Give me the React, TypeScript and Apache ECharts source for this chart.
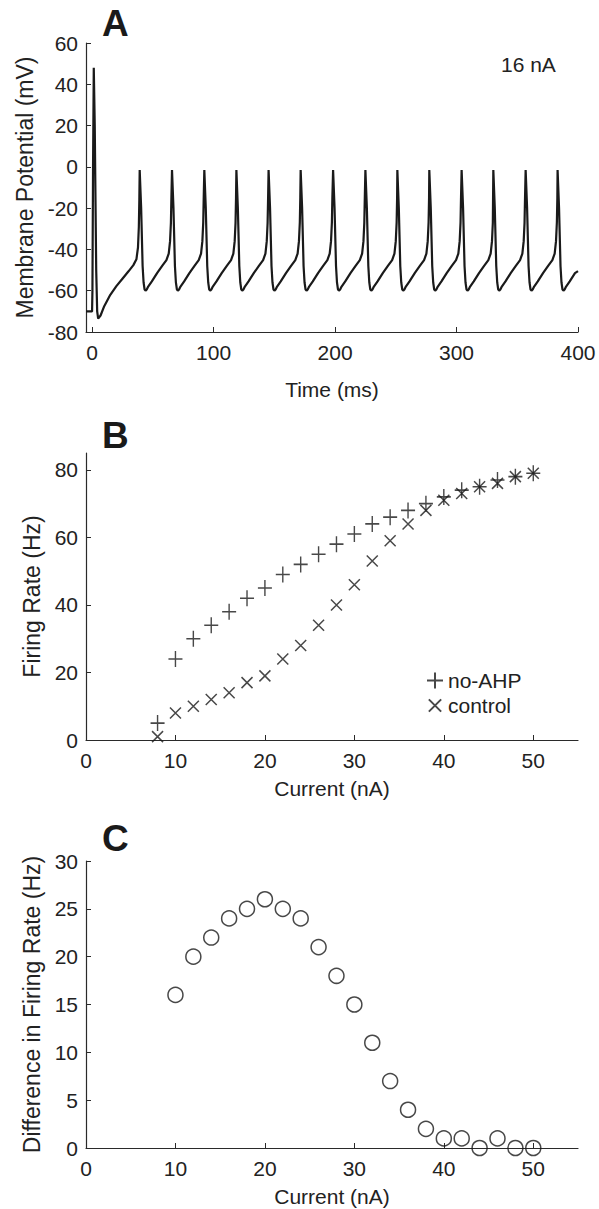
import { useEffect, useRef } from "react";
import * as echarts from "echarts";

const FONT = "'Liberation Sans', Arial, Helvetica, sans-serif";
const TXT = "#222222";
const AX = "#2a2a2a";

// ---------- Panel A: membrane potential trace (16 nA) ----------
const timeTicks = [0, 100, 200, 300, 400];
const voltageTicks = [-80, -60, -40, -20, 0, 20, 40, 60];
// [time ms, mV] first action potential and recovery
const initialTrace: [number, number][] = [
  [-5, -70], [0, -70], [0.3, -60], [0.8, 0], [1.4, 48], [2.2, 20], [3.4, -50],
  [4.2, -70], [5.0, -73.5], [7, -72], [10, -67.5], [15, -62], [20, -57.8],
  [25, -54.2], [30, -50.6], [34, -47.6], [36.5, -44.8], [37.8, -39], [38.5, -29], [38.9, -16],
];
// peak times of the regular spikes (ms)
const spikePeakTimes = [39.2, 65.8, 92.4, 118.8, 145.3, 171.7, 198.4, 225, 251.3, 277.6, 304.2, 330.3, 356.9, 383.2];
// waveform of one regular spike, [ms after peak, mV]
const spikeWaveform: [number, number][] = [
  [0, -1.5], [1.2, -20], [2.4, -48], [3.2, -56], [4.0, -59.3], [4.8, -60], [5.8, -59.4],
  [7, -58], [10, -55.5], [14.3, -51.5], [18.5, -48], [22, -45.2], [23.9, -42],
  [25.0, -36], [25.7, -27], [26.1, -15],
];
const traceEnd: [number, number] = [400, -50.5];

// ---------- Panel B: firing rate vs current ----------
const currentTicks = [0, 10, 20, 30, 40, 50];
const rateTicks = [0, 20, 40, 60, 80];
const currents = [8, 10, 12, 14, 16, 18, 20, 22, 24, 26, 28, 30, 32, 34, 36, 38, 40, 42, 44, 46, 48, 50];
const noAhpRate = [5, 24, 30, 34, 38, 42, 45, 49, 52, 55, 58, 61, 64, 66, 68, 70, 72, 74, 75, 77, 78, 79];
const controlRate = [1, 8, 10, 12, 14, 17, 19, 24, 28, 34, 40, 46, 53, 59, 64, 68, 71, 73, 75, 76, 78, 79];

// ---------- Panel C: difference in firing rate ----------
const diffTicks = [0, 5, 10, 15, 20, 25, 30];
const diffCurrents = [10, 12, 14, 16, 18, 20, 22, 24, 26, 28, 30, 32, 34, 36, 38, 40, 42, 44, 46, 48, 50];
const rateDifference = [16, 20, 22, 24, 25, 26, 25, 24, 21, 18, 15, 11, 7, 4, 2, 1, 1, 0, 1, 0, 0];

const PLUS = "path://M0 -1L0 1M-1 0L1 0";
const CROSS = "path://M-1.3 -1.3M1.3 1.3M-1 -1L1 1M-1 1L1 -1";

function buildTrace(): [number, number][] {
  const pts: [number, number][] = initialTrace.slice();
  spikePeakTimes.forEach((T, i) => {
    const next = i + 1 < spikePeakTimes.length ? spikePeakTimes[i + 1] : traceEnd[0];
    spikeWaveform.forEach(([dt, v]) => {
      if (T + dt < next) pts.push([T + dt, v]);
    });
  });
  pts.push(traceEnd);
  return pts;
}

function axisBase(ticks: number[], min: number, max: number, name: string, gap: number, vertical: boolean) {
  return {
    type: "value",
    min,
    max,
    name,
    nameLocation: "middle",
    nameGap: gap,
    nameTextStyle: { color: TXT, fontSize: vertical ? 23 : 21, fontFamily: FONT },
    axisLine: { show: true, onZero: false, lineStyle: { color: AX, width: 1.2 } },
    axisTick: { show: true, inside: true, length: 5, customValues: ticks, lineStyle: { color: AX, width: 1 } },
    axisLabel: { show: true, customValues: ticks, color: TXT, fontSize: 21, fontFamily: FONT, margin: vertical ? 8 : 10 },
    splitLine: { show: false },
  };
}

export default function App() {
  const ref = useRef<HTMLDivElement>(null);
  useEffect(() => {
    if (!ref.current) return;
    const chart = echarts.init(ref.current, undefined, { renderer: "svg" });
    const trace = buildTrace();
    const option: any = {
      animation: false,
      backgroundColor: "#ffffff",
      textStyle: { fontFamily: FONT },
      grid: [
        { left: 86, top: 43, width: 492, height: 289, containLabel: false, outerBoundsMode: "none" },
        { left: 86, top: 453, width: 492, height: 287, containLabel: false, outerBoundsMode: "none" },
        { left: 86, top: 861, width: 492, height: 287, containLabel: false, outerBoundsMode: "none" },
      ],
      xAxis: [
        { gridIndex: 0, ...axisBase(timeTicks, -5, 400, "Time (ms)", 47, false) },
        { gridIndex: 1, ...axisBase(currentTicks, 0, 55, "Current (nA)", 37.5, false) },
        { gridIndex: 2, ...axisBase(currentTicks, 0, 55, "Current (nA)", 37.5, false) },
      ],
      yAxis: [
        { gridIndex: 0, ...axisBase(voltageTicks, -80, 60, "Membrane Potential (mV)", 49, true) },
        { gridIndex: 1, ...axisBase(rateTicks, 0, 85, "Firing Rate (Hz)", 42.5, true) },
        { gridIndex: 2, ...axisBase(diffTicks, 0, 30, "Difference in Firing Rate (Hz)", 39, true) },
      ],
      legend: {
        show: true,
        orient: "vertical",
        left: 421,
        top: 665,
        itemWidth: 16,
        itemHeight: 16,
        itemGap: 4,
        selectedMode: false,
        textStyle: { color: TXT, fontSize: 21, fontFamily: FONT },
        data: ["no-AHP", "control"],
      },
      series: [
        {
          type: "line",
          name: "16 nA trace",
          xAxisIndex: 0,
          yAxisIndex: 0,
          data: trace,
          showSymbol: false,
          symbol: "none",
          clip: false,
          lineStyle: { color: "#1a1a1a", width: 2.2 },
          z: 3,
        },
        {
          type: "scatter",
          name: "no-AHP",
          xAxisIndex: 1,
          yAxisIndex: 1,
          data: currents.map((c, i) => [c, noAhpRate[i]]),
          symbol: PLUS,
          symbolSize: [14, 16],
          clip: false,
          itemStyle: { color: "rgba(0,0,0,0)", borderColor: "#1a1a1a", borderWidth: 1.5 },
        },
        {
          type: "scatter",
          name: "control",
          xAxisIndex: 1,
          yAxisIndex: 1,
          data: currents.map((c, i) => [c, controlRate[i]]),
          symbol: CROSS,
          symbolSize: 14.3,
          clip: false,
          itemStyle: { color: "rgba(0,0,0,0)", borderColor: "#1a1a1a", borderWidth: 1.5 },
        },
        {
          type: "scatter",
          name: "difference",
          xAxisIndex: 2,
          yAxisIndex: 2,
          data: diffCurrents.map((c, i) => [c, rateDifference[i]]),
          symbol: "circle",
          symbolSize: 15,
          clip: false,
          itemStyle: { color: "rgba(0,0,0,0)", borderColor: "#1a1a1a", borderWidth: 1.5 },
        },
      ],
      graphic: [
        { type: "text", left: 102, top: 5, style: { text: "A", fontSize: 37, fontWeight: "bold", fontFamily: FONT, fill: "#1a1a1a" } },
        { type: "text", left: 102, top: 417, style: { text: "B", fontSize: 37, fontWeight: "bold", fontFamily: FONT, fill: "#1a1a1a" } },
        { type: "text", left: 102, top: 820, style: { text: "C", fontSize: 37, fontWeight: "bold", fontFamily: FONT, fill: "#1a1a1a" } },
        { type: "text", left: 501, top: 54, style: { text: "16 nA", fontSize: 21, fontFamily: FONT, fill: TXT } },
      ],
    };
    chart.setOption(option);
    return () => chart.dispose();
  }, []);
  return <div ref={ref} style={{ position: "fixed", left: 0, top: 0, width: 599, height: 1209, background: "#fff" }} />;
}
